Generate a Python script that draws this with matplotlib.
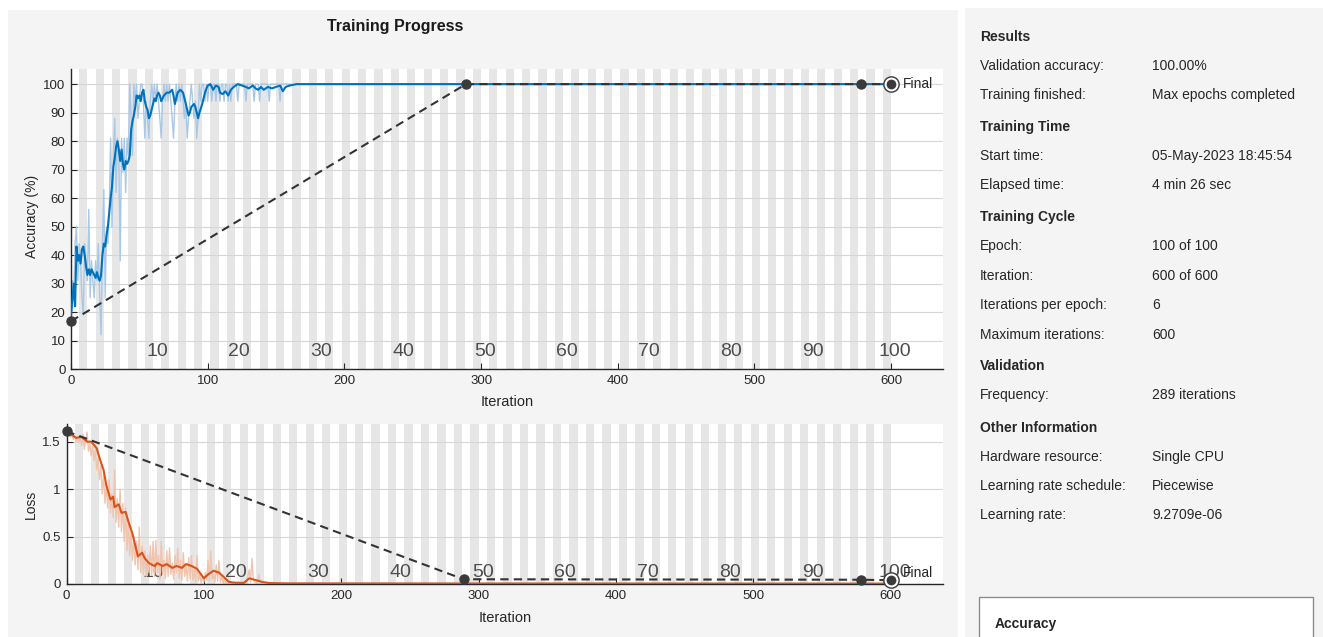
import numpy as np
import matplotlib.pyplot as plt
from matplotlib.patches import Rectangle

plt.rcParams['font.family'] = ['Liberation Sans', 'DejaVu Sans']

# ---- data ----
# mini-batch accuracy (%) for iterations 0..160, it stays at 100 afterwards
acc_raw = [19, 31, 25, 44, 50, 31, 44, 38, 25, 19,
           44, 38, 31, 56, 25, 38, 31, 25, 38, 31,
           44, 25, 12, 44, 63, 25, 50, 44, 56, 81,
           50, 75, 88, 62, 81, 75, 38, 81, 69, 81,
           62, 81, 75, 100, 88, 75, 100, 94, 100, 88,
           94, 100, 100, 94, 81, 94, 88, 81, 94, 100,
           94, 100, 94, 100, 94, 88, 81, 94, 100, 94,
           100, 94, 100, 94, 88, 81, 94, 100, 94, 100,
           94, 100, 94, 88, 94, 81, 88, 94, 100, 94,
           88, 94, 81, 88, 100, 94, 100, 100, 94, 100,
           94, 100, 100, 94, 100, 100, 94, 100, 100, 94,
           100, 100, 94, 100, 100, 94, 100, 94, 100, 100,
           100, 100, 94, 100, 100, 100, 100, 100, 94, 100,
           100, 100, 100, 100, 94, 100, 100, 100, 94, 100,
           100, 100, 100, 100, 100, 94, 100, 100, 100, 100,
           100, 100, 100, 94, 100, 100, 100, 100, 100, 100, 100]
acc_raw_tail_it = [160, 600]
acc_raw_tail = [100, 100]

# smoothed accuracy (dark blue line)
acc_smooth_it = [0, 1, 2, 3, 4, 5, 6, 7, 8, 9, 10, 11, 12, 13, 14, 15, 16, 18, 19, 20,
                 21, 22, 23, 24, 25, 26, 27, 28, 29, 30, 31, 32, 33, 34, 35, 36, 37, 38, 39, 40,
                 41, 42, 43, 44, 45, 46, 47, 48, 49, 50, 51, 52, 53, 54, 55, 56, 57, 58, 59, 60,
                 61, 62, 63, 64, 65, 66, 67, 68, 70, 72, 74, 75, 76, 77, 78, 80, 82, 83, 84, 85,
                 86, 87, 88, 90, 91, 92, 93, 94, 96, 98, 100, 102, 104, 106, 108, 109, 111, 113, 115, 117,
                 119, 122, 125, 128, 130, 133, 135, 137, 139, 141, 144, 147, 150, 153, 155, 157, 160, 165, 600]
acc_smooth = [19, 24, 30, 22, 43, 38, 40, 37, 42, 43, 40, 36, 33, 35, 33, 35, 34, 32, 34, 32,
              31, 33, 40, 44, 43, 47, 50, 55, 60, 64, 71, 74, 78, 80, 77, 73, 77, 72, 70, 73,
              72, 73, 75, 84, 87, 89, 92, 96, 95, 96, 94, 97, 98, 94, 92, 91, 88, 89, 91, 93,
              95, 94, 96, 97, 96, 94, 95, 96, 97, 97, 98, 96, 93, 95, 97, 98, 97, 95, 93, 91,
              89, 90, 92, 93, 92, 90, 88, 90, 93, 97, 99.5, 100, 98, 99.5, 99, 97, 96.5, 97.5, 96, 98,
              99, 100, 99.5, 99, 98.5, 99.5, 98.5, 98, 99, 98, 99, 98.5, 99, 99.5, 97.5, 99, 99.5, 100, 100]

# mini-batch loss for iterations 0..150
loss_raw = [1.61, 1.60, 1.58, 1.55, 1.57, 1.52, 1.56, 1.50, 1.54, 1.49,
            1.55, 1.46, 1.58, 1.42, 1.52, 1.60, 1.40, 1.48, 1.35, 1.45,
            1.30, 1.42, 1.20, 1.32, 1.10, 1.25, 0.95, 1.15, 0.85, 1.05,
            0.80, 1.10, 0.75, 0.95, 0.70, 1.20, 0.65, 0.90, 0.60, 1.00,
            0.55, 0.85, 0.45, 0.80, 0.35, 0.65, 0.30, 0.55, 0.25, 0.50,
            0.20, 0.45, 0.15, 0.60, 0.12, 0.40, 0.10, 0.35, 0.08, 0.30,
            0.12, 0.40, 0.10, 0.45, 0.08, 0.46, 0.12, 0.30, 0.05, 0.45,
            0.10, 0.25, 0.06, 0.35, 0.08, 0.38, 0.10, 0.22, 0.05, 0.30,
            0.12, 0.38, 0.06, 0.25, 0.04, 0.33, 0.08, 0.20, 0.03, 0.28,
            0.05, 0.30, 0.04, 0.15, 0.02, 0.30, 0.03, 0.10, 0.01, 0.08,
            0.02, 0.12, 0.04, 0.25, 0.03, 0.35, 0.05, 0.10, 0.02, 0.20,
            0.03, 0.25, 0.02, 0.08, 0.01, 0.05, 0.01, 0.03, 0.01, 0.02,
            0.01, 0.01, 0.02, 0.01, 0.01, 0.02, 0.01, 0.01, 0.03, 0.01,
            0.02, 0.01, 0.08, 0.15, 0.02, 0.27, 0.04, 0.02, 0.01, 0.03,
            0.10, 0.02, 0.01, 0.02, 0.01, 0.02, 0.01, 0.01, 0.01, 0.01, 0.01]
loss_raw_tail_it = [150, 200, 600]
loss_raw_tail = [0.01, 0.005, 0.002]

loss_smooth_it = [0, 1, 4, 7, 11, 15, 18, 22, 24, 27, 29, 32, 34, 35, 38, 40, 43, 45, 48, 50,
                  52, 55, 57, 60, 64, 66, 70, 73, 77, 80, 84, 87, 91, 95, 97, 100, 103, 107, 111, 114,
                  118, 121, 129, 133, 138, 143, 148, 160, 600]
loss_smooth = [1.61, 1.60, 1.57, 1.54, 1.55, 1.50, 1.50, 1.43, 1.33, 1.20, 1.04, 0.89, 0.92, 0.81, 0.84, 0.75, 0.76, 0.66, 0.53, 0.41,
               0.29, 0.33, 0.27, 0.22, 0.19, 0.22, 0.19, 0.21, 0.17, 0.19, 0.17, 0.21, 0.19, 0.16, 0.12, 0.06, 0.10, 0.14, 0.12, 0.08,
               0.025, 0.015, 0.01, 0.06, 0.04, 0.02, 0.01, 0.006, 0.004]

# validation points
val_it = [0, 289, 578, 600]
val_acc = [16.8, 100, 100, 100]
val_loss = [1.61, 0.05, 0.045, 0.04]

n_epochs = 100
iters_per_epoch = 6
epoch_labels = [10, 20, 30, 40, 50, 60, 70, 80, 90, 100]

# right hand info panel: (label, value), value None for a section header
info_rows = [("Results", None),
             ("Validation accuracy:", "100.00%"),
             ("Training finished:", "Max epochs completed"),
             ("Training Time", None),
             ("Start time:", "05-May-2023 18:45:54"),
             ("Elapsed time:", "4 min 26 sec"),
             ("Training Cycle", None),
             ("Epoch:", "100 of 100"),
             ("Iteration:", "600 of 600"),
             ("Iterations per epoch:", "6"),
             ("Maximum iterations:", "600"),
             ("Validation", None),
             ("Frequency:", "289 iterations"),
             ("Other Information", None),
             ("Hardware resource:", "Single CPU"),
             ("Learning rate schedule:", "Piecewise"),
             ("Learning rate:", "9.2709e-06")]
info_y = [37, 66, 95, 127, 156, 185, 217, 246, 276, 305, 335, 366, 395, 428, 457, 486, 515]

W, H = 1323, 637
BG = '#f4f4f4'
BAND = '#e6e6e6'
BLUE = '#0072bd'
BLUE_RAW = '#a8c8e6'
RED = '#d95319'
RED_RAW = '#f0c4ae'
DARK = '#333333'

fig = plt.figure(figsize=(W / 100, H / 100), dpi=100, facecolor='white')
fig.patches.append(Rectangle((8 / W, 0), 950 / W, 627 / H, transform=fig.transFigure,
                             facecolor=BG, edgecolor='none', zorder=-10))
fig.patches.append(Rectangle((965 / W, 0), 358 / W, 629 / H, transform=fig.transFigure,
                             facecolor=BG, edgecolor='none', zorder=-10))

ax1 = fig.add_axes([71 / W, 1 - 369 / H, 872 / W, 300 / H])
ax2 = fig.add_axes([66.5 / W, 1 - 584 / H, 876.5 / W, 160 / H])


def style_axes(ax, xmax, ylim, yticks, yticklabels):
    ax.set_xlim(0, xmax)
    ax.set_ylim(*ylim)
    ax.set_facecolor('white')
    # epoch bands
    for e in range(2, n_epochs + 1, 2):
        ax.axvspan((e - 1) * iters_per_epoch, e * iters_per_epoch, color=BAND, lw=0, zorder=0.2)
    ax.set_axisbelow(True)
    ax.yaxis.grid(True, color='#d6d6d6', lw=0.8)
    ax.set_xticks([0, 100, 200, 300, 400, 500, 600])
    ax.set_yticks(yticks)
    ax.set_yticklabels(yticklabels)
    ax.tick_params(direction='in', length=4, labelsize=9.5, colors='#262626', pad=4)
    for s in ['top', 'right']:
        ax.spines[s].set_visible(False)
    for s in ['left', 'bottom']:
        ax.spines[s].set_color('#262626')
        ax.spines[s].set_linewidth(1.0)


# ---- accuracy ----
style_axes(ax1, 638, (0, 105.3), range(0, 101, 10), [str(v) for v in range(0, 101, 10)])
for e in epoch_labels:
    ax1.text(e * iters_per_epoch + 3, 6, str(e), ha='center', va='center',
             fontsize=14, color='#4d4d4d', zorder=0.6)
ax1.plot(np.arange(len(acc_raw)), acc_raw, color=BLUE_RAW, lw=1, zorder=2)
ax1.plot(acc_raw_tail_it, acc_raw_tail, color=BLUE_RAW, lw=1, zorder=2)
ax1.plot(acc_smooth_it, acc_smooth, color=BLUE, lw=1.5, zorder=3)
ax1.plot(val_it, val_acc, color=DARK, lw=1.5, ls=(0, (4, 2.5)), zorder=4)
ax1.plot(val_it[:-1], val_acc[:-1], 'o', color='#3a3a3a', ms=6.5, zorder=5, clip_on=False)
ax1.plot(val_it[-1], val_acc[-1], 'o', mfc='white', mec='#3a3a3a', mew=1, ms=11, zorder=5, clip_on=False)
ax1.plot(val_it[-1], val_acc[-1], 'o', color='#3a3a3a', ms=6, zorder=6, clip_on=False)
ax1.text(val_it[-1] + 9, val_acc[-1], 'Final', ha='left', va='center', fontsize=10, color='#262626')
ax1.set_ylabel('Accuracy (%)', fontsize=10, color='#262626')
ax1.yaxis.set_label_coords(-0.037, 0.51)
ax1.set_xlabel('Iteration', fontsize=10.5, color='#262626')
ax1.xaxis.set_label_coords(0.5, -0.087)

# ---- loss ----
style_axes(ax2, 638, (0, 1.686), [0, 0.5, 1, 1.5], ['0', '0.5', '1', '1.5'])
for e in epoch_labels:
    ax2.text(e * iters_per_epoch + 3, 0.126, str(e), ha='center', va='center',
             fontsize=14, color='#4d4d4d', zorder=0.6)
ax2.plot(np.arange(len(loss_raw)), loss_raw, color=RED_RAW, lw=1, zorder=2)
ax2.plot(loss_raw_tail_it, loss_raw_tail, color=RED_RAW, lw=1, zorder=2)
ax2.plot(loss_smooth_it, loss_smooth, color=RED, lw=1.5, zorder=3)
ax2.plot(val_it, val_loss, color=DARK, lw=1.5, ls=(0, (4, 2.5)), zorder=4)
ax2.plot(val_it[:-1], val_loss[:-1], 'o', color='#3a3a3a', ms=6.5, zorder=5, clip_on=False)
ax2.plot(val_it[-1], val_loss[-1], 'o', mfc='white', mec='#3a3a3a', mew=1, ms=11, zorder=5, clip_on=False)
ax2.plot(val_it[-1], val_loss[-1], 'o', color='#3a3a3a', ms=6, zorder=6, clip_on=False)
ax2.text(val_it[-1] + 9, 0.12, 'Final', ha='left', va='center', fontsize=10, color='#262626')
ax2.set_ylabel('Loss', fontsize=10, color='#262626')
ax2.yaxis.set_label_coords(-0.0325, 0.5)
ax2.set_xlabel('Iteration', fontsize=10.5, color='#262626')
ax2.xaxis.set_label_coords(0.5, -0.17)

fig.text(395 / W, 1 - 27 / H, 'Training Progress', ha='center', va='center',
         fontsize=11.5, fontweight='bold', color='#1a1a1a')

# ---- info panel ----
for (label, value), y in zip(info_rows, info_y):
    if value is None:
        fig.text(980 / W, 1 - y / H, label, ha='left', va='center', fontsize=10,
                 fontweight='bold', color='#262626')
    else:
        fig.text(980 / W, 1 - y / H, label, ha='left', va='center', fontsize=10, color='#262626')
        fig.text(1152 / W, 1 - y / H, value, ha='left', va='center', fontsize=10, color='#262626')

fig.patches.append(Rectangle((979 / W, -0.01), 334 / W, (637 - 597) / H + 0.01,
                             transform=fig.transFigure, facecolor='white',
                             edgecolor='#8c8c8c', lw=1, zorder=-5))
fig.text(995 / W, 1 - 624 / H, 'Accuracy', ha='left', va='center', fontsize=10,
         fontweight='bold', color='#262626')

fig.savefig('out.png', dpi=100, facecolor=fig.get_facecolor())
